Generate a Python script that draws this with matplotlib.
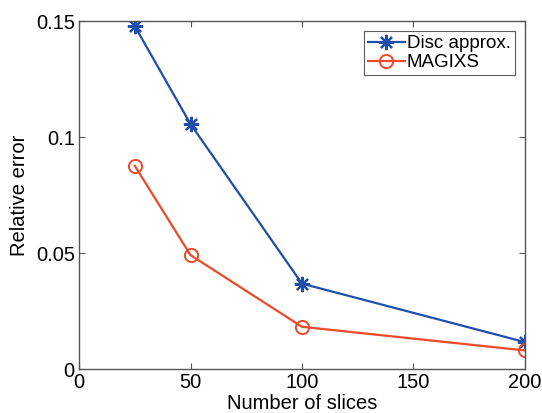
import matplotlib
matplotlib.use('Agg')
import matplotlib.pyplot as plt

# Data
slices = [25, 50, 100, 200]
disc_error = [0.1478, 0.1056, 0.0368, 0.0116]
magixs_error = [0.0876, 0.0491, 0.0182, 0.0080]

plt.rcParams['font.family'] = ['Liberation Sans', 'DejaVu Sans']

fig = plt.figure(figsize=(5.42, 4.13), dpi=100)
ax = fig.add_axes([0.1458, 0.1065, 0.8228, 0.8425])

ax.plot(slices, disc_error, color='#1f4fa8', lw=1.6, marker=(8, 2, 0),
        ms=11, mew=1.6, label='Disc approx.')
ax.plot(slices, magixs_error, color='#ee4a2a', lw=1.6, marker='o',
        ms=9.5, mfc='none', mew=1.4, label='MAGIXS')

ax.set_xlim(0, 200)
ax.set_ylim(0, 0.15)
ax.set_xticks([0, 50, 100, 150, 200])
ax.set_yticks([0, 0.05, 0.1, 0.15])
ax.set_yticklabels(['0', '0.05', '0.1', '0.15'])
ax.tick_params(direction='in', top=True, right=True, labelsize=14.5,
               color='#555555', length=4, pad=3)
for s in ax.spines.values():
    s.set_color('#555555')
    s.set_linewidth(1.0)

ax.set_xlabel('Number of slices', fontsize=14.5, labelpad=1)
ax.set_ylabel('Relative error', fontsize=14.5, labelpad=5)

leg = ax.legend(loc='upper right', fontsize=13.5, frameon=True, fancybox=False,
                handlelength=2.0, handletextpad=0.1, borderpad=0.2,
                labelspacing=0.1, borderaxespad=0.55)
leg.get_frame().set_edgecolor('#333333')
leg.get_frame().set_linewidth(0.8)

fig.savefig('out.png', dpi=100)
